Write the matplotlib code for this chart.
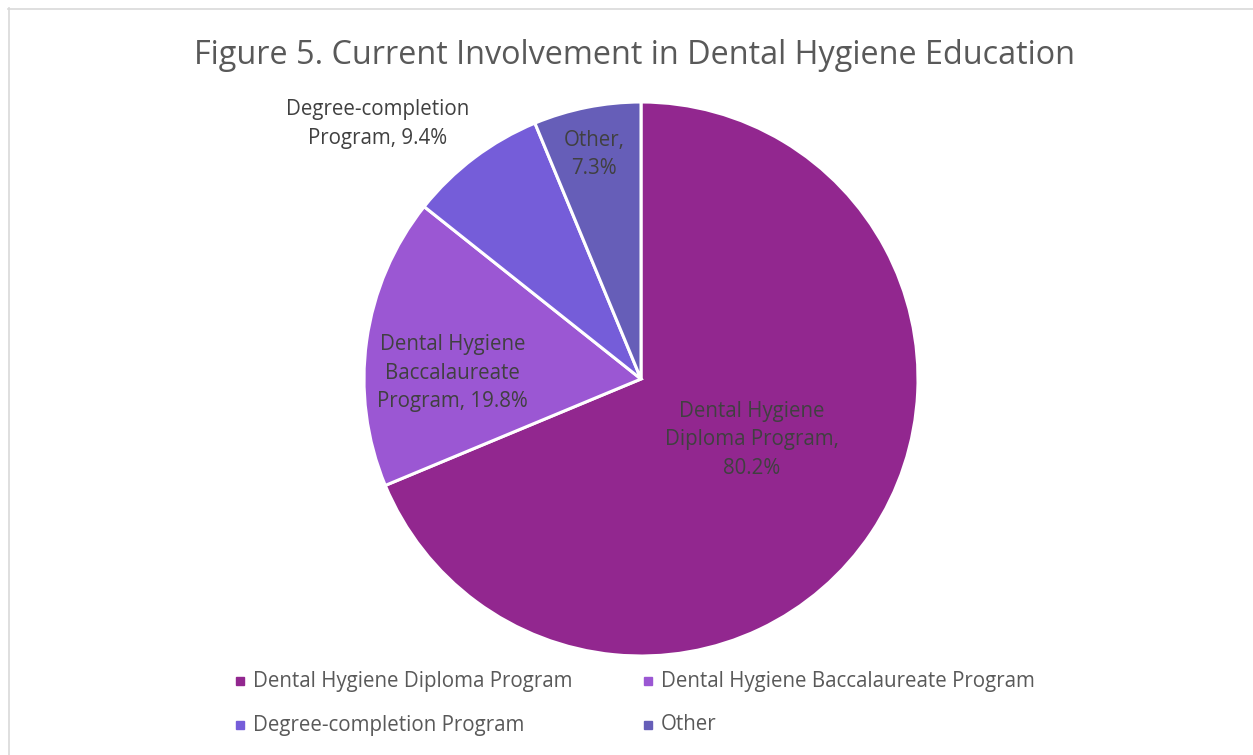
import matplotlib.pyplot as plt
from matplotlib.lines import Line2D
from matplotlib.patches import Rectangle

W, H = 1253, 755

categories = ["Dental Hygiene Diploma Program",
              "Dental Hygiene Baccalaureate Program",
              "Degree-completion Program",
              "Other"]
percents = [80.2, 19.8, 9.4, 7.3]
label_text = ["Dental Hygiene\nDiploma Program,\n80.2%",
              "Dental Hygiene\nBaccalaureate\nProgram, 19.8%",
              "Degree-completion\nProgram, 9.4%",
              "Other,\n7.3%"]
colors = ["#92278F", "#9B57D3", "#755DD9", "#665EB8"]

# where each data label sits, in pie radius units
label_xy = [(0.40, -0.22), (-0.68, 0.02), (-0.95, 0.92), (-0.17, 0.81)]

FONT = "Open Sans"


def px(x, y):
    # pixel position (from top left) -> figure fraction
    return x / W, 1 - y / H


def main():
    fig = plt.figure(figsize=(W / 100, H / 100), dpi=100)

    # chart area frame (only top and left edges visible)
    fig.add_artist(Line2D([8 / W, 1], [1 - 8.5 / H] * 2, color="#D9D9D9",
                          lw=1.2, transform=fig.transFigure))
    fig.add_artist(Line2D([8.5 / W] * 2, [0, 1 - 8 / H], color="#D9D9D9",
                          lw=1.2, transform=fig.transFigure))

    fig.text(*px(634, 55), "Figure 5. Current Involvement in Dental Hygiene Education",
             ha="center", va="center", fontsize=23.3, color="#595959", family=FONT)

    cx, cy, r = 641, 379, 277
    ax = fig.add_axes([(cx - r) / W, (H - cy - r) / H, 2 * r / W, 2 * r / H])
    ax.pie(percents, colors=colors, startangle=90, counterclock=False, radius=1,
           wedgeprops=dict(edgecolor="white", linewidth=2.2))
    ax.set_xlim(-1, 1)
    ax.set_ylim(-1, 1)
    ax.set_aspect("equal")
    ax.axis("off")

    for txt, (x, y) in zip(label_text, label_xy):
        ax.text(x, y, txt, ha="center", va="center", fontsize=14.8,
                color="#404040", family=FONT, linespacing=1.47)

    # legend, laid out row by row
    leg_pos = [(240, 681), (648, 681), (240, 725), (648, 725)]
    for (x, y), name, c in zip(leg_pos, categories, colors):
        fig.add_artist(Rectangle(px(x - 4, y + 4), 8 / W, 8 / H, color=c,
                                 transform=fig.transFigure))
        fig.text(*px(x + 13, y), name, ha="left", va="center", fontsize=14.8,
                 color="#595959", family=FONT)

    fig.savefig("out.png", dpi=100)


if __name__ == "__main__":
    main()
